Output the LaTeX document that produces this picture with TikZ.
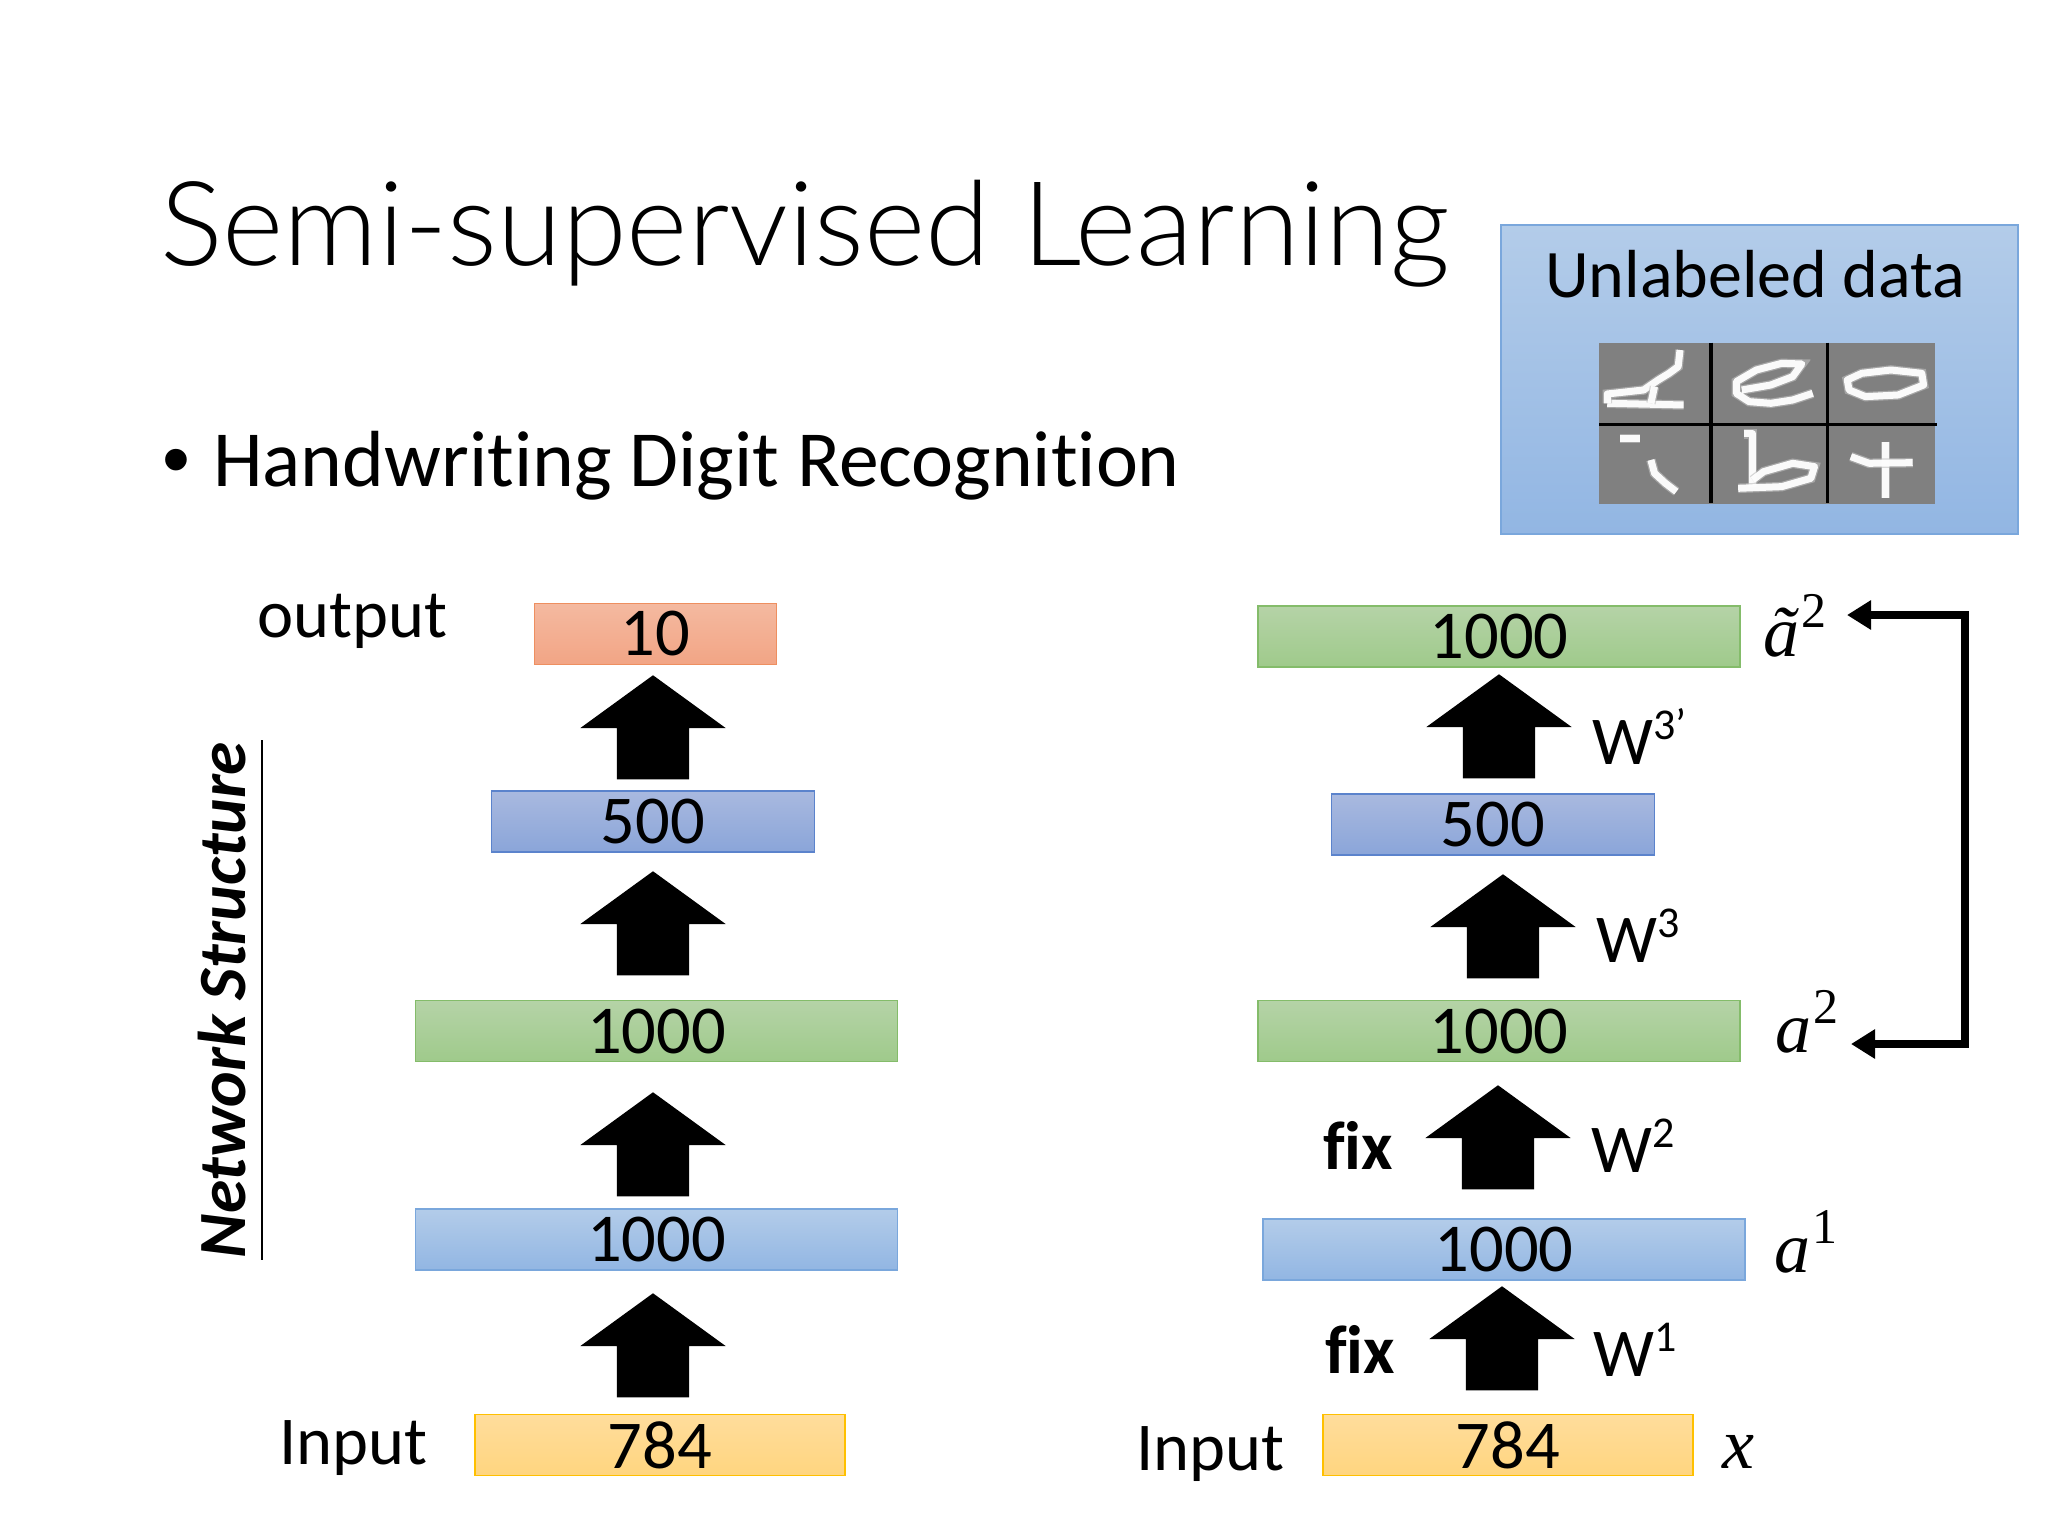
\documentclass[tikz,border=0pt]{standalone}
\usepackage{fontspec}
\setmainfont[Ligatures=NoCommon]{Carlito}
\newfontfamily\titlefont[Ligatures=NoCommon]{Lato Light}
\newfontfamily\serifsym{Liberation Serif}
\newfontfamily\bulletfont{Liberation Sans}
\usetikzlibrary{positioning,
        shapes,
        arrows.meta}
\definecolor{bluetop}{HTML}{B3CCE9}
\definecolor{bluebot}{HTML}{92B6E3}
\definecolor{blueline}{HTML}{7AA7DC}
\definecolor{greentop}{HTML}{B5D3A7}
\definecolor{greenbot}{HTML}{9FCA8B}
\definecolor{greenline}{HTML}{84BC6A}
\definecolor{orangetop}{HTML}{F4B9A0}
\definecolor{orangebot}{HTML}{F2A585}
\definecolor{orangeline}{HTML}{EE8F60}
\definecolor{slatetop}{HTML}{A9B9DF}
\definecolor{slatebot}{HTML}{8AA5D9}
\definecolor{slateline}{HTML}{5B83CC}
\definecolor{yellowtop}{HTML}{FFDD9C}
\definecolor{yellowbot}{HTML}{FFD57F}
\definecolor{yellowline}{HTML}{FFC000}
\newcommand{\bigsize}{\fontsize{68.5}{70}\selectfont}
\newcommand{\wsup}[1]{\raisebox{25pt}{\fontsize{44}{44}\selectfont #1}}
\newcommand{\symlabel}[2]{{\itshape #1}\hspace{2pt}\raisebox{29pt}{\fontsize{50}{50}\selectfont #2}}
\tikzset{
    layer/.style={draw,line width=1.2pt,minimum height=61pt,inner sep=0pt,font=\bigsize},
    bluelayer/.style={layer,draw=blueline,top color=bluetop,bottom color=bluebot},
    greenlayer/.style={layer,draw=greenline,top color=greentop,bottom color=greenbot},
    orangelayer/.style={layer,draw=orangeline,top color=orangetop,bottom color=orangebot},
    slatelayer/.style={layer,draw=slateline,top color=slatetop,bottom color=slatebot},
    yellowlayer/.style={layer,draw=yellowline,top color=yellowtop,bottom color=yellowbot},
    upblock/.style={single arrow,fill=black,draw=none,rotate=90,anchor=tip,inner xsep=0pt,inner ysep=36pt,
        minimum width=145pt,minimum height=104pt,single arrow head extend=36.5pt,
        single arrow head indent=0pt,single arrow tip angle=108},
    caption/.style={anchor=base west,inner sep=0pt,font=\bigsize},
    mathlabel/.style={anchor=base west,inner sep=0pt,font=\fontsize{72}{74}\serifsym\selectfont},
    stroke/.style={white,line width=7pt,line join=round,opacity=0.95,
        preaction={draw,black!25,line width=9.5pt,opacity=0.6}}
}

\begin{document}
\begin{tikzpicture}[x=1pt,y=-1pt]
            \useasboundingbox (0,0) rectangle (2048,1536);
            \fill [white] (0,0) rectangle (2048,1536);

            \node [anchor=base west,inner sep=0pt,font=\fontsize{117.3}{130}\titlefont\selectfont] (title) at (160,265) {Semi-supervised Learning};
            \node [anchor=base west,inner sep=0pt,font=\fontsize{79.6}{82}\selectfont] (point) at (162,486) {\makebox[51pt][l]{\bulletfont •}Handwriting Digit Recognition};

            % unlabeled data
            \node [bluelayer,minimum width=517pt,minimum height=309pt] (data) at (1759.5,379.5) {};
            \node [anchor=base west,inner sep=0pt,font=\fontsize{68}{70}\selectfont] (datatext) at (1545,297) {Unlabeled data};
            \node [fill=black!50,inner sep=0pt,minimum width=336pt,minimum height=161pt] (digits) at (1767,423.5) {};
            \begin{scope}[shift={(1480,210)},x=0.3636pt,y=-0.3333pt]
                \draw [black,line width=3.5pt] (635,398) -- (635,880);
                \draw [black,line width=3.5pt] (955,398) -- (955,880);
                \draw [black,line width=3pt] (328,645) -- (1256,645);
                \draw [stroke] (350,580) -- (560,585);
                \draw [stroke] (350,580) -- (350,552) -- (450,540) -- (490,510) -- (520,490) -- (545,470) -- (550,420);
                \draw [stroke] (470,580) -- (480,530);
                \draw [stroke] (915,550) -- (860,570) -- (800,580) -- (740,575) -- (705,550) -- (705,515) -- (760,480) -- (830,460) -- (885,462) -- (860,500) -- (800,525) -- (720,540);
                \draw [stroke] (1010,510) -- (1050,490) -- (1130,480) -- (1215,490) -- (1220,525) -- (1150,555) -- (1060,560) -- (1015,540) -- cycle;
                \draw [stroke] (385,686) -- (440,686);
                \draw [stroke] (470,750) -- (480,790) -- (510,820) -- (540,845);
                \draw [stroke] (725,672) -- (750,672) -- (750,830);
                \draw [stroke] (710,835) -- (830,830) -- (910,805) -- (920,770) -- (860,760) -- (780,785) -- (750,810);
                \draw [stroke] (1115,695) -- (1115,865);
                \draw [stroke] (1020,740) -- (1070,760) -- (1190,758);
            \end{scope}

            % left network
            \node [orangelayer,minimum width=242pt] (lout) at (655.5,634) {10};
            \node [slatelayer,minimum width=323pt] (lfive) at (653,821.5) {500};
            \node [greenlayer,minimum width=482pt] (lgreen) at (656.5,1031) {1000};
            \node [bluelayer,minimum width=482pt] (lblue) at (656.5,1239.5) {1000};
            \node [yellowlayer,minimum width=370pt] (linput) at (660,1445) {784};

            \node [upblock] (la4) at (653,675) {};
            \node [upblock] (la3) at (653,871) {};
            \node [upblock] (la2) at (653,1092) {};
            \node [upblock] (la1) at (653,1293) {};

            \node [caption] (loutput) at (257,637) {output};
            \node [caption] (linputtext) at (279,1464) {Input};
            \node [rotate=90,anchor=south,inner xsep=1.5pt,inner ysep=16pt,font=\fontsize{67.6}{70}\selectfont\bfseries\itshape] (netname) at (262,1000) {Network Structure};
            \draw [line width=2.5pt] (netname.south west) -- (netname.south east);

            % right network
            \node [greenlayer,minimum width=482pt] (rtop) at (1499,636.5) {1000};
            \node [slatelayer,minimum width=323pt] (rfive) at (1493,824.5) {500};
            \node [greenlayer,minimum width=482pt] (rgreen) at (1499,1031) {1000};
            \node [bluelayer,minimum width=482pt] (rblue) at (1504,1249.5) {1000};
            \node [yellowlayer,minimum width=370pt] (rinput) at (1508,1445) {784};

            \node [upblock] (ra4) at (1499,674) {};
            \node [upblock] (ra3) at (1503,874) {};
            \node [upblock] (ra2) at (1498,1085) {};
            \node [upblock] (ra1) at (1502,1286) {};

            \node [caption] (w4) at (1592,764) {W\wsup{3’}};
            \node [caption] (w3) at (1596,962) {W\wsup{3}};
            \node [caption] (w2) at (1591,1172) {W\wsup{2}};
            \node [caption] (w1) at (1593,1376) {W\wsup{1}};
            \node [caption,font=\bigsize\bfseries] (fix2) at (1323,1169) {fix};
            \node [caption,font=\bigsize\bfseries] (fix1) at (1325,1373) {fix};
            \node [caption] (rinputtext) at (1136,1470) {Input};

            \node [mathlabel] (atilde) at (1763,656) {\symlabel{ã}{2}};
            \node [mathlabel] (atwo) at (1775,1052) {\symlabel{a}{2}};
            \node [mathlabel] (aone) at (1774,1272) {\symlabel{a}{1}};
            \node [mathlabel] (xin) at (1722,1468) {\itshape x};

            \coordinate (backtop) at (1847,615);
            \coordinate (backbot) at (1851,1044);
            \draw [{Triangle[length=24pt,width=28pt]}-{Triangle[length=24pt,width=28pt]},line width=7.5pt] (backtop) -- (1965,615) -- (1965,1044) -- (backbot);
\end{tikzpicture}
\end{document}
